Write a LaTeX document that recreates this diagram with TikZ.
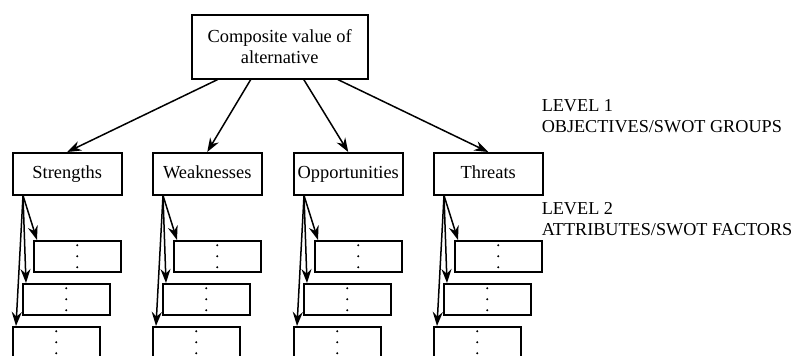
\documentclass[tikz,border=0pt]{standalone}
\usepackage{fontspec}
\setmainfont{Liberation Serif}
\usetikzlibrary{arrows.meta}

\begin{document}
\begin{tikzpicture}[x=1pt, y=-1pt, line width=1.5pt,
    box/.style={draw, rectangle, inner sep=0pt, anchor=north west, font=\fontsize{18.4}{21}\selectfont},
    subbox/.style={box, minimum width=87pt, minimum height=31pt},
    pfeil/.style={-{Stealth[length=14pt, width=10pt]}}]

    \useasboundingbox (0,0) rectangle (793,356);

    \node[box, minimum width=176pt, minimum height=64pt, align=center] (top) at (191,14) {Composite value of\\alternative};

    % level 1 and level 2
    \foreach \name/\txt/\L in {str/Strengths/12, wea/Weaknesses/152, opp/Opportunities/293, thr/Threats/433}{
        \node[box, minimum width=109pt, minimum height=42pt, text height=13pt, text depth=4pt] (\name) at (\L,152) {\txt};

        \node[subbox] (\name1) at (\L+21,240) {};
        \node[subbox] (\name2) at (\L+10,283) {};
        \node[subbox] (\name3) at (\L,326) {};

        \foreach \k in {1,2,3}{
            \draw[pfeil] ([xshift=11pt]\name.south west) -- ([xshift=4pt]\name\k.north west);
            \foreach \d in {-11,0,11}
                \fill (\name\k.center) ++(0,\d) circle (1.2pt);
        }
    }

    \draw[pfeil] ([xshift=-62pt]top.south) -- (str.north);
    \draw[pfeil] ([xshift=-29pt]top.south) -- (wea.north);
    \draw[pfeil] ([xshift=24pt]top.south) -- (opp.north);
    \draw[pfeil] ([xshift=58pt]top.south) -- (thr.north);

    \node[anchor=north west, align=left, inner sep=0pt, font=\fontsize{18.2}{21}\selectfont] (lev1) at (541,99) {LEVEL 1\\OBJECTIVES/SWOT GROUPS};
    \node[anchor=north west, align=left, inner sep=0pt, font=\fontsize{18.2}{21}\selectfont] (lev2) at (541,202) {LEVEL 2\\ATTRIBUTES/SWOT FACTORS};

\end{tikzpicture}
\end{document}
